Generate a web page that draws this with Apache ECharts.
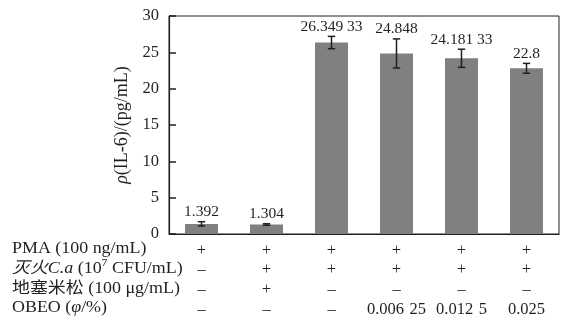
<!DOCTYPE html>
<html><head><meta charset="utf-8">
<script src="https://cdn.jsdelivr.net/npm/echarts@6/dist/echarts.min.js"></script>
<style>html,body{margin:0;padding:0;background:#fff}#c{width:570px;height:324px}</style>
</head><body><div id="c"></div>
<script>
// IL-6 concentration per treatment group (pg/mL) with error half-widths
const groups = ['G1', 'G2', 'G3', 'G4', 'G5', 'G6'];
const il6 = [1.392, 1.304, 26.34933, 24.848, 24.18133, 22.8];
const il6Err = [0.3, 0.1, 0.85, 2.0, 1.25, 0.68];

// Treatment table under the axis
const rowTitles = [
  'PMA (100 ng/mL)',
  '{i|灭火C.a} (10{sup|7} CFU/mL)',
  '地塞米松 (100 μg/mL)',
  'OBEO ({i|φ}/%)'
];
const pmaRow = ['+', '+', '+', '+', '+', '+'];
const caRow = ['–', '+', '+', '+', '+', '+'];
const dexRow = ['–', '+', '–', '–', '–', '–'];
const obeoRow = ['–', '–', '–', 0.00625, 0.0125, 0.025];

const yMin = 0, yMax = 30, yStep = 5;

const FONT = '"Liberation Serif", "Times New Roman", "Noto Sans CJK SC", serif';
const INK = '#231f20';

// group decimal digits in threes: 26.34933 -> "26.349 33"
function fmt(v, sep) {
  if (typeof v !== 'number') return v;
  const s = String(v);
  const p = s.split('.');
  if (p.length < 2) return s;
  return p[0] + '.' + p[1].match(/.{1,3}/g).join(sep || ' ');
}

const chart = echarts.init(document.getElementById('c'), null, { renderer: 'canvas' });

const rowY = [248.5, 268.5, 288.5, 307.5];

const option = {
  animation: false,
  backgroundColor: '#fff',
  grid: {
    left: 169, right: 11, top: 16, bottom: 90,
    show: true, borderColor: INK, borderWidth: 1, backgroundColor: 'transparent'
  },
  xAxis: {
    type: 'category',
    data: groups,
    z: 10,
    axisLine: { lineStyle: { color: INK, width: 1.2 } },
    axisTick: { inside: true, alignWithLabel: true, length: 5, lineStyle: { color: INK, width: 1.5 } },
    axisLabel: {
      interval: 0,
      margin: 6.5,
      fontFamily: FONT, fontSize: 16.5, color: INK, lineHeight: 19.7,
      formatter: function (v, i) {
        return [pmaRow[i], caRow[i], dexRow[i], fmt(obeoRow[i], '\u2004')].join('\n');
      }
    }
  },
  yAxis: {
    type: 'value',
    min: yMin, max: yMax, interval: yStep,
    z: 10,
    name: '{i|ρ}(IL-6)/(pg/mL)',
    nameLocation: 'middle',
    nameGap: 36,
    nameTextStyle: {
      fontFamily: FONT, fontSize: 18, color: INK,
      rich: { i: { fontFamily: FONT, fontSize: 18, fontStyle: 'italic', color: INK } }
    },
    splitLine: { show: false },
    axisLine: { show: true, lineStyle: { color: INK, width: 1.2 } },
    axisTick: { show: true, inside: true, length: 7, lineStyle: { color: INK, width: 1.5 } },
    axisLabel: { margin: 10, fontFamily: FONT, fontSize: 16.5, color: INK }
  },
  series: [
    {
      type: 'bar',
      data: il6,
      barWidth: 33,
      itemStyle: { color: '#808080' },
      z: 2
    },
    {
      type: 'custom',
      z: 5,
      data: il6.map(function (v, i) { return [i, v, il6Err[i]]; }),
      renderItem: function (params, api) {
        const i = api.value(0), v = api.value(1), e = api.value(2);
        const top = api.coord([i, v + e]);
        const bot = api.coord([i, v - e]);
        const cap = 3.7;
        const ls = { stroke: INK, lineWidth: 1.5 };
        return {
          type: 'group',
          children: [
            { type: 'line', shape: { x1: top[0], y1: top[1], x2: bot[0], y2: bot[1] }, style: ls },
            { type: 'line', shape: { x1: top[0] - cap, y1: top[1], x2: top[0] + cap, y2: top[1] }, style: ls },
            { type: 'line', shape: { x1: bot[0] - cap, y1: bot[1], x2: bot[0] + cap, y2: bot[1] }, style: ls },
            {
              type: 'text',
              x: top[0], y: top[1] - 2,
              style: {
                text: fmt(il6[params.dataIndex]),
                align: 'center', verticalAlign: 'bottom',
                font: '15.5px ' + FONT, fill: INK
              }
            }
          ]
        };
      }
    }
  ],
  graphic: rowTitles.map(function (t, k) {
    return {
      type: 'text',
      x: 12,
      y: rowY[k],
      scaleX: 1.12,
      style: {
        text: t,
        fontFamily: FONT, fontSize: 16, fill: INK,
        verticalAlign: 'middle',
        rich: {
          i: { fontFamily: FONT, fontSize: 16, fontStyle: 'italic', fill: INK, lineHeight: 20 },
          sup: { fontFamily: FONT, fontSize: 10.5, fill: INK, verticalAlign: 'top', lineHeight: 20 }
        }
      }
    };
  })
};

chart.setOption(option);
</script>
</body></html>
